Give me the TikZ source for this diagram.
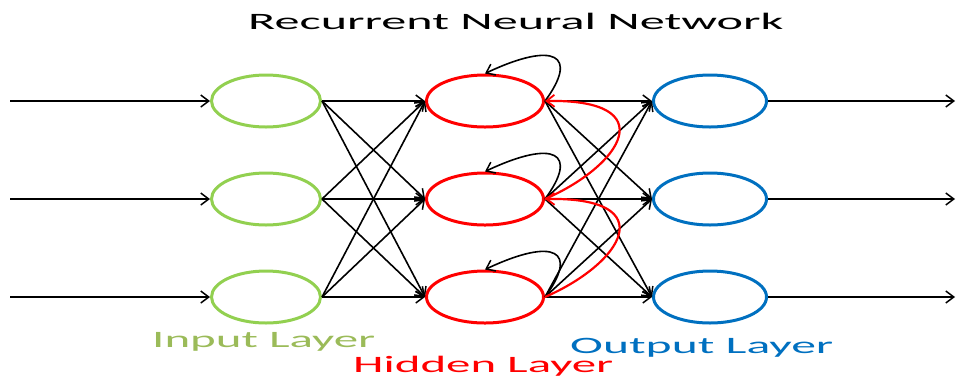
\documentclass[tikz,border=0pt]{standalone}
\usepackage{fontspec}
\setmainfont{Carlito}
\usetikzlibrary{shapes.geometric,arrows.meta}
\definecolor{ingreen}{HTML}{92D050}
\definecolor{inlabel}{HTML}{9BBB59}
\definecolor{hidred}{HTML}{FF0000}
\definecolor{outblue}{HTML}{0070C0}
\tikzset{
  neuron/.style={ellipse, draw, line width=3pt, minimum width=112pt, minimum height=52pt, inner sep=0pt},
  link/.style={line width=1.6pt, -{Straight Barb[length=8pt,width=12pt,line width=1.5pt]}},
  back/.style={line width=2.2pt, hidred, -{Straight Barb[length=8pt,width=12pt,line width=1.8pt]}},
  lbl/.style={anchor=base west, inner sep=0pt, font=\fontsize{23.5}{24}\selectfont}
}
\begin{document}
\begin{tikzpicture}[x=1pt,y=-1pt]
\useasboundingbox (0,0) rectangle (957,376);

% input layer
\node[neuron, ingreen, minimum width=109pt] (i1) at (266,101) {};
\node[neuron, ingreen, minimum width=109pt] (i2) at (266,199) {};
\node[neuron, ingreen, minimum width=109pt] (i3) at (266,297) {};
% hidden layer
\node[neuron, hidred, minimum width=117pt] (h1) at (485,101) {};
\node[neuron, hidred, minimum width=117pt] (h2) at (485,199) {};
\node[neuron, hidred, minimum width=117pt] (h3) at (485,297) {};
% output layer
\node[neuron, outblue, minimum width=113pt] (o1) at (710,101) {};
\node[neuron, outblue, minimum width=113pt] (o2) at (710,199) {};
\node[neuron, outblue, minimum width=113pt] (o3) at (710,297) {};

% free ends of the input and output arrows
\coordinate (s1) at (10,101);
\coordinate (s2) at (10,199);
\coordinate (s3) at (10,297);
\coordinate (e1) at (955,101);
\coordinate (e2) at (955,199);
\coordinate (e3) at (955,297);

\foreach \k in {1,2,3} {
  \draw[link] (s\k) -- (i\k.west);
  \draw[link] (o\k.east) -- (e\k);
}
\foreach \a in {1,2,3} {
  \foreach \b in {1,2,3} {
    \draw[link] (i\a.east) -- (h\b.west);
    \draw[link] (h\a.east) -- (o\b.west);
  }
}

% self loops on the hidden units
\foreach \k in {1,2,3} {
  \draw[link] (h\k.east) .. controls +(34,-46) and +(70,-33) .. (h\k.north);
}

% recurrent links between hidden units
\draw[back] (h2.east) .. controls +(78,-34) and +(118,-2) .. (h1.east);
\draw[back] (h3.east) .. controls +(78,-34) and +(118,-2) .. (h2.east);

% titles
\node[lbl] (title) at (248,29) {\resizebox{535pt}{\height}{Recurrent Neural Network}};
\node[lbl, text=inlabel] (lin) at (152,347) {\resizebox{223pt}{\height}{Input Layer}};
\node[lbl, text=hidred] (lhid) at (353,372) {\resizebox{260pt}{\height}{Hidden Layer}};
\node[lbl, text=outblue] (lout) at (570,353) {\resizebox{263pt}{\height}{Output Layer}};
\end{tikzpicture}
\end{document}
